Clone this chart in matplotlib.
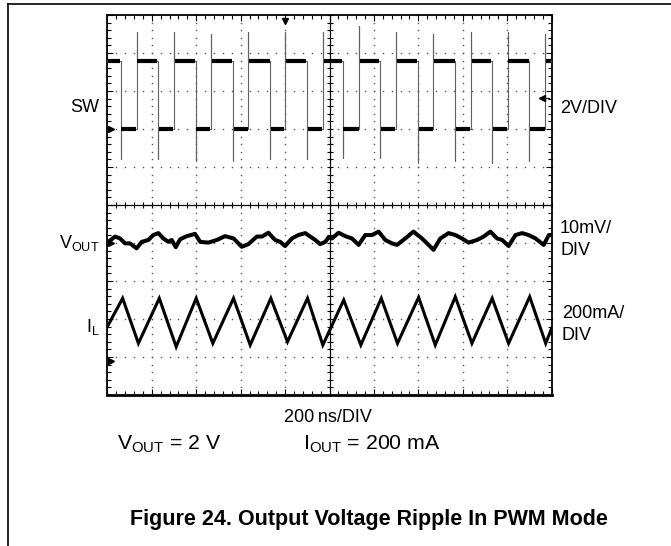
import numpy as np
import matplotlib
matplotlib.use('Agg')
import matplotlib.pyplot as plt
from matplotlib.lines import Line2D
from matplotlib.ticker import MultipleLocator

plt.rcParams['font.family'] = ['Liberation Sans', 'DejaVu Sans']
plt.rcParams['mathtext.default'] = 'regular'

# ---------------- data ----------------
ns_per_div = 200.0
sw_v_per_div = 2.0
vout_mv_per_div = 10.0
il_ma_per_div = 200.0

# SW node: switching edges (ns) and levels (V)
sw_falling_ns = [60, 228, 398, 565, 733, 898, 1060, 1228, 1398, 1566, 1732, 1900]
sw_rising_ns = [132, 300, 467, 634, 800, 970, 1135, 1300, 1468, 1637, 1802, 1972]
sw_high_v = 3.6
sw_low_v = 0.0
sw_overshoot_v = [5.1, 5.1, 5.0, 5.1, 5.1, 5.1, 5.4, 5.1, 5.0, 5.1, 5.1, 5.0]
sw_undershoot_v = [-1.6, -1.6, -1.7, -1.7, -1.6, -1.6, -1.5, -1.5, -1.8, -1.7, -1.8, -1.7]

# Output voltage ripple (AC, mV)
vout_t_ns = [0, 5, 35, 57, 80, 102, 132, 155, 185, 207, 230, 252, 275, 290, 308,
             328, 358, 395, 418, 455, 493, 530, 568, 605, 635, 673, 696, 725, 755,
             778, 800, 831, 860, 891, 913, 936, 958, 981, 996, 1011, 1041, 1071,
             1101, 1131, 1161, 1191, 1221, 1251, 1281, 1304, 1341, 1378, 1416, 1446,
             1468, 1499, 1536, 1566, 1596, 1626, 1664, 1694, 1724, 1754, 1777, 1806,
             1837, 1867, 1896, 1927, 1964, 1987, 2000]
vout_mv = [-0.2, 0.3, 1.7, 1.2, -0.1, -0.1, -1.4, 0.3, 0.8, 2.1, 2.6, 1.2, 0.3, 0.8, -1.1,
           1.0, 1.8, 2.4, 0.3, 0.1, 0.8, 1.8, 1.2, -1.0, -0.3, 1.7, 1.7, 2.7, 0.8,
           0.3, -0.8, 1.2, 2.1, 2.6, 1.7, 0.8, -0.3, 0.3, 1.5, 1.2, 2.7, 1.8,
           1.2, -0.5, 2.1, 2.1, 3.0, 0.8, -0.1, -0.5, 1.2, 3.0, 1.2, -0.5,
           -1.8, 1.2, 2.6, 2.1, 1.2, 0.1, 0.8, 1.7, 3.0, 1.2, 0.8, -0.8,
           2.1, 2.6, 2.1, 1.2, -0.5, 2.1, 2.1]

# Inductor current (mA): start, alternating peaks / valleys, end
il_t_ns = [0, 69, 140, 234, 310, 400, 475, 568, 643, 736, 811, 901, 970, 1064,
           1141, 1233, 1306, 1401, 1476, 1566, 1641, 1732, 1806, 1901, 1973, 2000]
il_ma = [179, 329, 92, 329, 74, 329, 92, 329, 83, 329, 100, 329, 83, 320,
         83, 329, 92, 334, 83, 337, 92, 329, 92, 337, 92, 171]

# ---------------- layout (screen positions in divisions) ----------------
sw_offset_div = 2.0
vout_offset_div = -1.0
il_offset_div = -4.1

W, H = 671, 546
fig = plt.figure(figsize=(W / 100, H / 100), dpi=100)
fig.patch.set_facecolor('white')

def fx(x):
    return x / W

def fy(y):
    return 1 - y / H

ax = fig.add_axes([fx(107.3), fy(395), fx(551.7) - fx(107.3), fy(15) - fy(395)])
ax.set_xlim(0, 10 * ns_per_div)
ax.set_ylim(-5, 5)

# graticule: dotted grid
minor_x = np.arange(0, 10 * ns_per_div + 1, ns_per_div / 5)
minor_y = np.arange(-5, 5.001, 0.2)
for k in range(1, 10):
    if k == 5:
        continue
    ax.plot(np.full_like(minor_y, k * ns_per_div), minor_y, ls='none', marker='s',
            ms=1.0, mew=0, color='#555555', zorder=1)
for j in range(-4, 5):
    if j == 0:
        continue
    ax.plot(minor_x, np.full_like(minor_x, j), ls='none', marker='s',
            ms=1.0, mew=0, color='#555555', zorder=1)
# centre cross with ticks
ax.axhline(0, color='black', lw=0.9, zorder=1)
ax.axvline(5 * ns_per_div, color='black', lw=0.9, zorder=1)
ax.plot(minor_x, np.zeros_like(minor_x), ls='none', marker='|', ms=5, mew=0.8,
        color='black', zorder=1)
ax.plot(np.full_like(minor_y, 5 * ns_per_div), minor_y, ls='none', marker='_', ms=5,
        mew=0.8, color='black', zorder=1)

# border ticks
ax.xaxis.set_major_locator(MultipleLocator(ns_per_div))
ax.xaxis.set_minor_locator(MultipleLocator(ns_per_div / 5))
ax.yaxis.set_major_locator(MultipleLocator(1))
ax.yaxis.set_minor_locator(MultipleLocator(0.2))
ax.tick_params(which='both', direction='in', top=True, right=True,
               labelbottom=False, labelleft=False, width=0.8, color='black')
ax.tick_params(which='major', length=4)
ax.tick_params(which='minor', length=3)
for s in ax.spines.values():
    s.set_linewidth(1.3)
ax.spines['bottom'].set_linewidth(2.0)

# ---------------- SW trace ----------------
events = sorted([(t, 'f', i) for i, t in enumerate(sw_falling_ns)] +
                [(t, 'r', i) for i, t in enumerate(sw_rising_ns)])
sw_t = [0]
sw_v = [sw_high_v]
flats = []
seg_start, seg_level = 0, sw_high_v
for te, kind, i in events:
    flats.append((seg_start, te, seg_level))
    if kind == 'f':
        sw_t += [te, te, te]
        sw_v += [sw_high_v, sw_undershoot_v[i], sw_low_v]
        seg_start, seg_level = te, sw_low_v
    else:
        sw_t += [te, te, te]
        sw_v += [sw_low_v, sw_overshoot_v[i], sw_high_v]
        seg_start, seg_level = te, sw_high_v
flats.append((seg_start, 10 * ns_per_div, seg_level))
sw_t.append(10 * ns_per_div)
sw_v.append(sw_high_v)

sw_div = np.array(sw_v) / sw_v_per_div + sw_offset_div
ax.plot(sw_t, sw_div, color='#606060', lw=0.8, zorder=3)
for t0, t1, lvl in flats:
    y = lvl / sw_v_per_div + sw_offset_div
    ax.plot([t0 + 3, t1 - 3], [y, y], color='black', lw=3.0,
            solid_capstyle='butt', zorder=4)

# ---------------- Vout trace ----------------
ax.plot(vout_t_ns, np.array(vout_mv) / vout_mv_per_div + vout_offset_div,
        color='black', lw=2.9, solid_joinstyle='round', zorder=4)

# ---------------- IL trace ----------------
ax.plot(il_t_ns, np.array(il_ma) / il_ma_per_div + il_offset_div,
        color='black', lw=2.2, solid_joinstyle='miter', zorder=4)

# channel ground markers, trigger markers
ytr = ax.get_yaxis_transform()
xtr = ax.get_xaxis_transform()
for off in (sw_offset_div, vout_offset_div, il_offset_div):
    ax.plot(0.008, off, marker='>', ms=4.5, color='black', transform=ytr,
            clip_on=False, zorder=5)
trig_div = 2.81
ax.plot([0.975, 0.995], [trig_div, trig_div], color='black', lw=0.9, transform=ytr,
        clip_on=False, zorder=5)
ax.plot(0.978, trig_div, marker='<', ms=4, color='black', transform=ytr,
        clip_on=False, zorder=5)
ax.plot(4 * ns_per_div, 0.985, marker='v', ms=4, color='black', transform=xtr,
        clip_on=False, zorder=5)

# ---------------- labels ----------------
lab = 13
fig.text(fx(99.5), fy(111.7), 'SW', ha='right', va='baseline', fontsize=lab)
fig.text(fx(560), fy(113.3), '2V/DIV', ha='left', va='baseline', fontsize=lab)
fig.text(fx(99.5), fy(248.3), r'V$_{\mathregular{OUT}}$', ha='right', va='baseline',
         fontsize=lab)
fig.text(fx(560), fy(233.3), '10mV/', ha='left', va='baseline', fontsize=lab)
fig.text(fx(560), fy(255), 'DIV', ha='left', va='baseline', fontsize=lab)
fig.text(fx(99.5), fy(332), r'I$_{\mathregular{L}}$', ha='right', va='baseline',
         fontsize=lab)
fig.text(fx(561.7), fy(318.3), '200mA/', ha='left', va='baseline', fontsize=lab)
fig.text(fx(561.7), fy(340), 'DIV', ha='left', va='baseline', fontsize=lab)

fig.text(fx(327.5), fy(422.5), '200\u2009ns/DIV', ha='center', va='baseline',
         fontsize=13)
fig.text(fx(116.7), fy(449.3), r'V$_{\mathregular{OUT}}$ = 2 V', ha='left',
         va='baseline', fontsize=15.3)
fig.text(fx(303.3), fy(449.3), r'I$_{\mathregular{OUT}}$ = 200 mA', ha='left',
         va='baseline', fontsize=15.3)
fig.text(fx(368.5), fy(525.5), 'Figure 24. Output Voltage Ripple In PWM Mode',
         ha='center', va='baseline', fontsize=15.5, fontweight='bold')

# page frame lines (top and left)
fig.add_artist(Line2D([fx(8), 1.0], [fy(4), fy(4)], color='black', lw=1.2,
                      transform=fig.transFigure))
fig.add_artist(Line2D([fx(8), fx(8)], [fy(4), 0.0], color='black', lw=1.2,
                      transform=fig.transFigure))

fig.savefig('out.png', dpi=100, facecolor='white')
